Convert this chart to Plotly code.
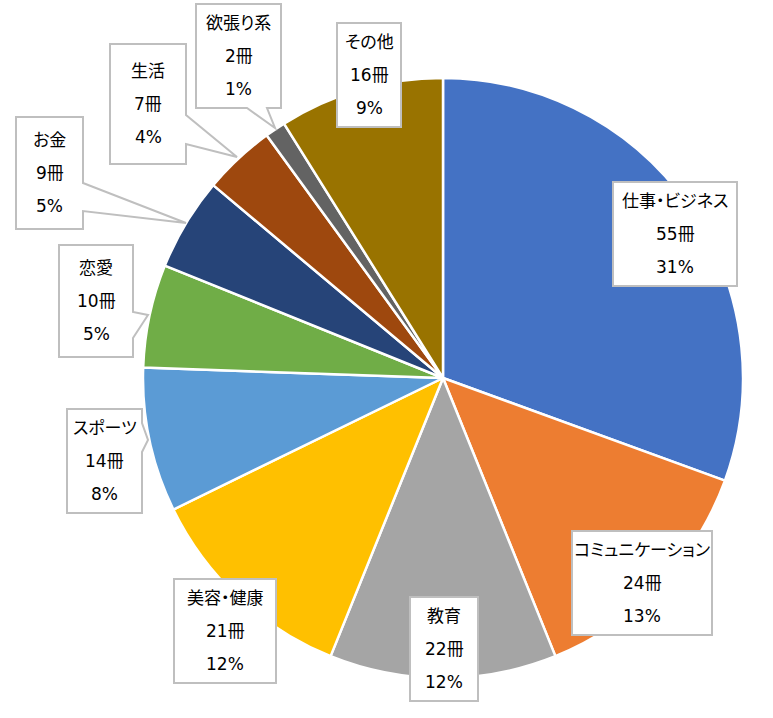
import plotly.graph_objects as go

W, H = 773, 718

categories = ["仕事・ビジネス", "コミュニケーション", "教育", "美容・健康", "スポーツ",
              "恋愛", "お金", "生活", "欲張り系", "その他"]
counts = [55, 24, 22, 21, 14, 10, 9, 7, 2, 16]
pct_labels = [31, 13, 12, 12, 8, 5, 5, 4, 1, 9]
colors = ["#4472C4", "#ED7D31", "#A5A5A5", "#FFC000", "#5B9BD5",
          "#70AD47", "#264478", "#9E480E", "#636363", "#997300"]

# label box layout in pixels: (x0, y0, x1, y1), tail (side, base_a, base_b, tip_x, tip_y) or None
boxes = [
    ((613, 182, 737, 286), None),
    ((572, 531, 712, 635), None),
    ((410, 597, 478, 701), None),
    ((174, 579, 276, 683), None),
    ((67, 409, 142, 513), ("r", 423, 452, 148, 440)),
    ((59, 245, 133, 357), ("r", 312, 338, 148, 315)),
    ((16, 117, 83, 229), ("r", 183, 211, 186, 223)),
    ((110, 44, 186, 164), ("r", 115, 144, 237, 157)),
    ((196, 4, 281, 108), ("b", 247, 267, 275, 128)),
    ((337, 23, 401, 127), None),
]

def px(x):
    return x / W

def py(y):
    return 1 - y / H

fig = go.Figure()
fig.add_trace(go.Pie(
    labels=categories, values=counts, sort=False, direction="clockwise", rotation=0,
    marker=dict(colors=colors, line=dict(color="white", width=2.5)),
    textinfo="none", hoverinfo="none", showlegend=False,
    domain=dict(x=[143 / W, 743 / W], y=[py(678), py(78)]),
))

shapes = []
annotations = []
for (box, tail), cat, n, p in zip(boxes, categories, counts, pct_labels):
    x0, y0, x1, y1 = box
    if tail is None:
        pts = [(x0, y0), (x1, y0), (x1, y1), (x0, y1)]
    elif tail[0] == "r":
        _, a, b, tx, ty = tail
        pts = [(x0, y0), (x1, y0), (x1, a), (tx, ty), (x1, b), (x1, y1), (x0, y1)]
    else:
        _, a, b, tx, ty = tail
        pts = [(x0, y0), (x1, y0), (x1, y1), (b, y1), (tx, ty), (a, y1), (x0, y1)]
    path = "M " + " L ".join(f"{px(x):.5f},{py(y):.5f}" for x, y in pts) + " Z"
    shapes.append(dict(type="path", xref="paper", yref="paper", path=path,
                       fillcolor="white", line=dict(color="#BFBFBF", width=2)))
    cx = (x0 + x1) / 2
    cy = (y0 + y1) / 2
    for k, t in enumerate([cat, f"{n}冊", f"{p}%"]):
        annotations.append(dict(
            x=px(cx), y=py(cy + (k - 1) * 33), xref="paper", yref="paper",
            text=f"<span style=\"font-feature-settings:'palt'\">{t}</span>",
            showarrow=False, xanchor="center", yanchor="middle",
            font=dict(family="DejaVu Sans, Noto Sans CJK JP", size=17, color="#000000"),
        ))

fig.update_layout(
    width=W, height=H, margin=dict(l=0, r=0, t=0, b=0),
    paper_bgcolor="white", plot_bgcolor="white",
    shapes=shapes, annotations=annotations,
)

fig.write_html("out.html")
